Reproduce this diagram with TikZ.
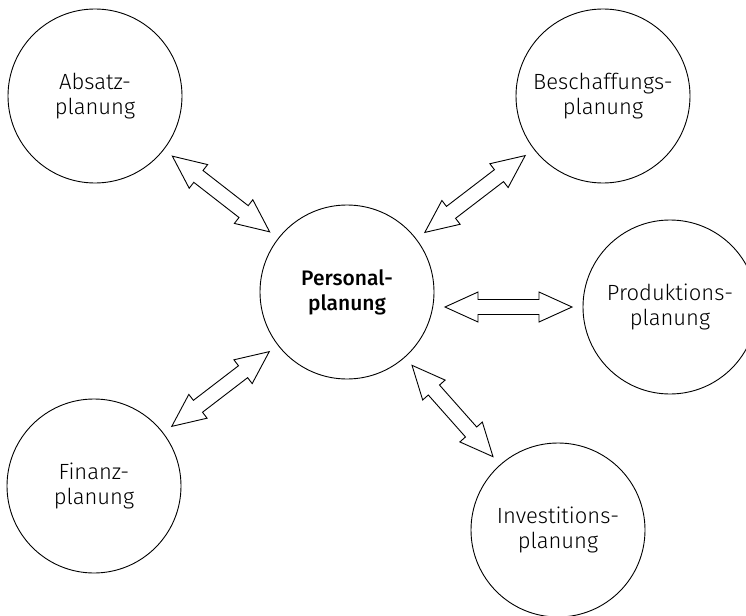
\documentclass[tikz,border=0pt]{standalone}
\usepackage{fontspec}
\setmainfont{Fira Sans Light}[BoldFont={Fira Sans Medium}]
\usetikzlibrary{calc, positioning}

\begin{document}
\begin{tikzpicture}[x=1pt, y=-1pt,
  plan/.style={draw, circle, line width=.9pt, minimum size=174pt, inner sep=0pt, align=center, font=\fontsize{22}{25}\selectfont},
  dblarrow/.style={draw, fill=white, line width=.9pt, line join=miter, to path={
    ($(\tikztostart)!98pt!(\tikztotarget)$) coordinate (t1)
    ($(\tikztotarget)!98pt!(\tikztostart)$) coordinate (t2)
    (t1) -- ($(t1)!33pt!(t2)!15pt!90:(t2)$) -- ($(t1)!33pt!(t2)!7.5pt!90:(t2)$)
    -- ($(t2)!33pt!(t1)!7.5pt!-90:(t1)$) -- ($(t2)!33pt!(t1)!15pt!-90:(t1)$)
    -- (t2) -- ($(t2)!33pt!(t1)!15pt!90:(t1)$) -- ($(t2)!33pt!(t1)!7.5pt!90:(t1)$)
    -- ($(t1)!33pt!(t2)!7.5pt!-90:(t2)$) -- ($(t1)!33pt!(t2)!15pt!-90:(t2)$) -- cycle}}]
  \useasboundingbox (0,0) rectangle (746,615);

  \node[plan] (abs) at (95,96) {Absatz-\\planung};
  \node[plan] (besch) at (603,96) {Beschaffungs-\\planung};
  \node[plan, font=\fontsize{21}{25}\selectfont\bfseries] (pers) at (347,292) {Personal-\\planung};
  \node[plan] (prod) at (670,307) {Produktions-\\planung};
  \node[plan] (fin) at (94,486) {Finanz-\\planung};
  \node[plan] (inv) at (558,530) {Investitions-\\planung};
  \coordinate (persr) at (pers |- prod);

  \draw[dblarrow] (abs) to (pers);
  \draw[dblarrow] (besch) to (pers);
  \draw[dblarrow] (persr) to (prod);
  \draw[dblarrow] (fin) to (pers);
  \draw[dblarrow] (inv) to (pers);
\end{tikzpicture}
\end{document}
